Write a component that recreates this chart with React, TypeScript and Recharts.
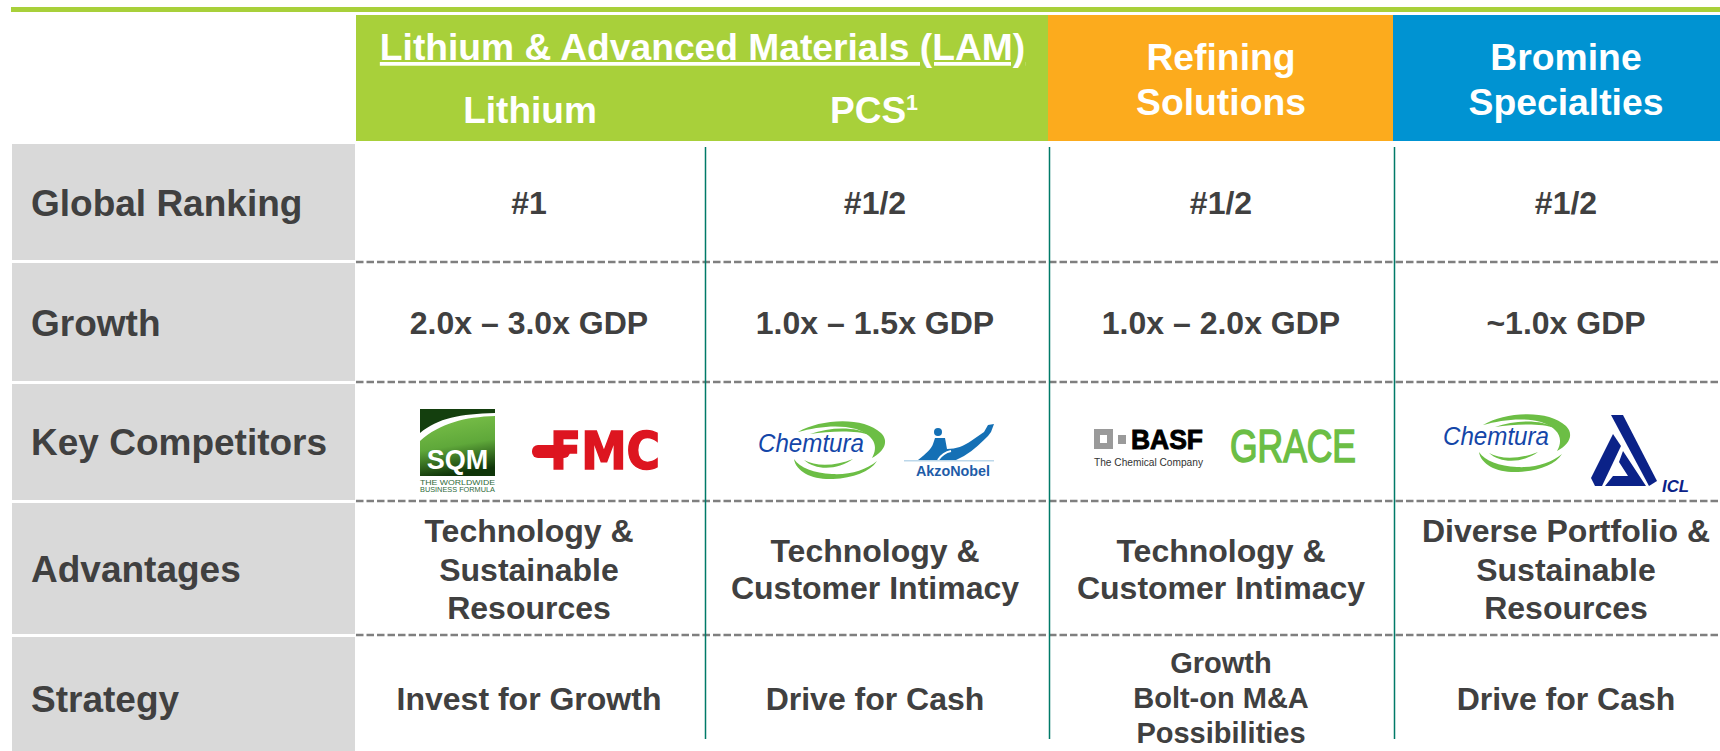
import React from "react";
import { ScatterChart, Scatter, XAxis, YAxis, ReferenceArea, ReferenceLine } from "recharts";

const FONT = "'Liberation Sans', Arial, sans-serif";
const INK = "#404040";

const rowLabels = ["Global Ranking", "Growth", "Key Competitors", "Advantages", "Strategy"];
const globalRanking = ["#1", "#1/2", "#1/2", "#1/2"];
const growth = ["2.0x – 3.0x GDP", "1.0x – 1.5x GDP", "1.0x – 2.0x GDP", "~1.0x GDP"];
const advantages = [
  ["Technology &", "Sustainable", "Resources"],
  ["Technology &", "Customer Intimacy"],
  ["Technology &", "Customer Intimacy"],
  ["Diverse Portfolio &", "Sustainable", "Resources"],
];
const strategy = [
  ["Invest for Growth"],
  ["Drive for Cash"],
  ["Growth", "Bolt-on M&A", "Possibilities"],
  ["Drive for Cash"],
];
const segments = [
  { name: "Lithium & Advanced Materials (LAM)", color: "#A8D03A" },
  { name: "Refining Solutions", color: "#FCAB1D" },
  { name: "Bromine Specialties", color: "#0093D2" },
];

// layout
const W = 1720, H = 751;
const colCenters = [529, 875, 1221, 1566];
const headerBands = [[356, 1048], [1048, 1393], [1393, 1720]];
const greyBands = [[144, 260], [263, 381], [384, 500], [503, 634], [637, 751]];
const dashedRows = [262, 382, 501, 635];
const colDividers = [705, 1049, 1394];
const labelBase = [216, 336, 455, 582, 712];
const cellBase = [214, 334, 0, 580.5, 710];
const lineGaps = [0, 0, 0, 38.5, 35];

type Cell = { x: number; y: number; text: string; size: number; color: string; anchor: string; underline?: boolean; sup?: string };
const cells: Cell[] = [];
const add = (x: number, y: number, text: string, size = 32, extra: Partial<Cell> = {}) =>
  cells.push({ x, y, text, size, color: INK, anchor: "middle", ...extra });

rowLabels.forEach((t, i) => add(31, labelBase[i], t, 37, { anchor: "start" }));
[globalRanking, growth].forEach((r, ri) => r.forEach((t, c) => add(colCenters[c], cellBase[ri], t)));
advantages.forEach((lines, c) =>
  lines.forEach((t, l) => add(colCenters[c], cellBase[3] + (l - (lines.length - 1) / 2) * (lines.length === 3 ? lineGaps[3] : 37), t))
);
strategy.forEach((lines, c) =>
  lines.forEach((t, l) => add(colCenters[c], cellBase[4] - (lines.length === 3 ? 2 : 0) + (l - (lines.length - 1) / 2) * lineGaps[4], t, lines.length === 3 ? 29 : 32))
);
const white = { color: "#fff" };
add(702.5, 60, segments[0].name, 37.2, { ...white, underline: true });
add(530, 123, "Lithium", 37, white);
add(874, 123, "PCS", 37, { ...white, sup: "1" });
segments.slice(1).forEach((s, i) => {
  const words = s.name.split(" ");
  words.forEach((w, l) => add(i === 0 ? 1221 : 1566, 70 + l * 45, w, 37.3, white));
});

const TextCell = (p: any) => (
  <text x={p.cx} y={p.cy} textAnchor={p.payload.anchor} fontFamily={FONT} fontWeight={700} fontSize={p.payload.size}
    fill={p.payload.color} textDecoration={p.payload.underline ? "underline" : undefined}>
    {p.payload.text}
    {p.payload.sup ? <tspan fontSize={p.payload.size * 0.58} dy={-13}>{p.payload.sup}</tspan> : null}
  </text>
);

// logos
const GREEN = "#6CBE45";
const Sqm = ({ cx, cy }: any) => (
  <g transform={`translate(${cx},${cy})`}>
    <defs>
      <linearGradient id="sqmg" x1="0.1" y1="0" x2="0.3" y2="1">
        <stop offset="0" stopColor="#7CC24A" />
        <stop offset="0.55" stopColor="#5FA83A" />
        <stop offset="1" stopColor="#0F3509" />
      </linearGradient>
    </defs>
    <rect width={75} height={67} fill="#143F0E" />
    <path d="M0 30 C18 14 40 7 75 6 L75 67 L0 67 Z" fill="url(#sqmg)" />
    <path d="M0 24 C18 9 40 5 75 4 L75 7 C45 8 20 14 0 32 Z" fill="#fff" />
    <text x={37.5} y={60} textAnchor="middle" fontFamily={FONT} fontWeight={700} fontSize={27} fill="#fff">SQM</text>
    <text x={0} y={76} fontFamily={FONT} fontSize={7.5} fill="#2F6B3A" textLength={75} lengthAdjust="spacingAndGlyphs">THE WORLDWIDE</text>
    <text x={0} y={83} fontFamily={FONT} fontSize={7.5} fill="#2F6B3A" textLength={75} lengthAdjust="spacingAndGlyphs">BUSINESS FORMULA</text>
  </g>
);
const Fmc = ({ cx, cy }: any) => (
  <g transform={`translate(${cx},${cy})`} fill="#DD1520">
    <rect x={0} y={13} width={38} height={13} rx={6} />
    <text x={18} y={37} fontFamily="'DejaVu Sans', sans-serif" fontWeight={700} fontSize={51} stroke="#DD1520" strokeWidth={1.6}
      textLength={110} lengthAdjust="spacingAndGlyphs">FMC</text>
  </g>
);
const Chemtura = ({ cx, cy }: any) => (
  <g transform={`translate(${cx},${cy})`}>
    <path d="M40 10 C62 -3 105 -6 123 11 C131 19 127 29 114 36 C121 24 116 13 98 7 C80 2 58 5 40 10 Z" fill={GREEN} />
    <path d="M52 12 C72 5 98 4 112 13 C98 8 72 9 52 12 Z" fill={GREEN} />
    <path d="M36 37 C38 50 55 58 75 57 C95 56 112 50 119 39 C108 48 92 53 74 52 C56 51 42 46 36 37 Z" fill={GREEN} />
    <path d="M46 38 C58 45 78 44 95 37 C80 48 58 49 46 38 Z" fill={GREEN} />
    <text x={0} y={30} fontFamily={FONT} fontStyle="italic" fontSize={26} fill="#1446A8" textLength={106} lengthAdjust="spacingAndGlyphs">Chemtura</text>
  </g>
);
const Akzo = ({ cx, cy }: any) => (
  <g transform={`translate(${cx},${cy})`}>
    <circle cx={34} cy={8} r={4} fill="#1570B5" />
    <path d="M31 14 L41 14 L43 25 C52 25 60 22 67 17 L80 8 L84 1 L90 0 L87 8 L84 12 C78 18 70 26 60 32 L52 36 L14 36 C22 30 28 24 29 20 Z" fill="#1570B5" />
    <path d="M34 36 C38 30 42 28 47 27" stroke="#fff" strokeWidth={2} fill="none" />
    <rect x={0} y={36} width={90} height={1.5} fill="#BCD7EA" />
    <text x={12} y={52} fontFamily={FONT} fontWeight={700} fontSize={15} fill="#1E5CA8" textLength={74} lengthAdjust="spacingAndGlyphs">AkzoNobel</text>
  </g>
);
const Basf = ({ cx, cy }: any) => (
  <g transform={`translate(${cx},${cy})`}>
    <rect x={0} y={0} width={19} height={20} fill="#9A9A9A" />
    <rect x={6} y={6} width={7} height={8} fill="#fff" />
    <rect x={24} y={6} width={8} height={9} fill="#9A9A9A" />
    <text x={37} y={20} fontFamily={FONT} fontWeight={700} fontSize={27} fill="#000" stroke="#000" strokeWidth={0.9} textLength={72} lengthAdjust="spacingAndGlyphs">BASF</text>
    <text x={0} y={37} fontFamily={FONT} fontSize={10.5} fill="#333" textLength={109} lengthAdjust="spacingAndGlyphs">The Chemical Company</text>
  </g>
);
const Grace = ({ cx, cy }: any) => (
  <text x={cx} y={cy} fontFamily={FONT} fontSize={46} fill={GREEN} stroke={GREEN} strokeWidth={1.6} textLength={126} lengthAdjust="spacingAndGlyphs">GRACE</text>
);
const Icl = ({ cx, cy }: any) => (
  <g transform={`translate(${cx},${cy})`} fill="#0B2288">
    <polygon points="20,0 32,0 66,66 58,71" />
    <polygon points="22,19 30,31 11,71 4,71 0,63" />
    <polygon points="32,36 55,71 14,71 22,61 37,61 28,47" />
    <text x={71} y={77} fontFamily={FONT} fontStyle="italic" fontWeight={700} fontSize={16} textLength={27} lengthAdjust="spacingAndGlyphs">ICL</text>
  </g>
);

const sqmAt = [{ x: 420, y: 409 }];
const fmcAt = [{ x: 532, y: 432 }];
const chemturaAt = [{ x: 758, y: 422 }, { x: 1443, y: 415 }];
const akzoAt = [{ x: 904, y: 424 }];
const basfAt = [{ x: 1094, y: 429 }];
const graceAt = [{ x: 1230, y: 462 }];
const iclAt = [{ x: 1591, y: 415 }];

export default function App() {
  return (
    <div style={{ position: "absolute", left: 0, top: 0, width: W, height: H, overflow: "hidden", background: "#fff" }}>
      <ScatterChart width={W} height={H} margin={{ top: 0, right: 0, bottom: 0, left: 0 }}>
        <XAxis type="number" dataKey="x" domain={[0, W]} hide allowDataOverflow />
        <YAxis type="number" dataKey="y" domain={[0, H]} reversed hide allowDataOverflow width={0} />
        <ReferenceArea x1={11} x2={W} y1={7} y2={12} fill="#A8D03A" fillOpacity={1} stroke="none" />
        {headerBands.map(([a, b], i) => (
          <ReferenceArea key={i} x1={a} x2={b} y1={15} y2={141} fill={segments[i].color} fillOpacity={1} stroke="none" />
        ))}
        {greyBands.map(([a, b], i) => (
          <ReferenceArea key={i} x1={12} x2={355} y1={a} y2={b} fill="#D9D9D9" fillOpacity={1} stroke="none" />
        ))}
        {dashedRows.map((y) => (
          <ReferenceLine key={y} segment={[{ x: 356, y }, { x: W, y }]} stroke="#7F7F7F" strokeWidth={2.6} strokeDasharray="7.5 3" />
        ))}
        {colDividers.map((x) => (
          <ReferenceLine key={x} segment={[{ x: x + 0.5, y: 147 }, { x: x + 0.5, y: 739 }]} stroke="#007A68" strokeWidth={1.5} />
        ))}
        <Scatter data={sqmAt} shape={Sqm} isAnimationActive={false} />
        <Scatter data={fmcAt} shape={Fmc} isAnimationActive={false} />
        <Scatter data={chemturaAt} shape={Chemtura} isAnimationActive={false} />
        <Scatter data={akzoAt} shape={Akzo} isAnimationActive={false} />
        <Scatter data={basfAt} shape={Basf} isAnimationActive={false} />
        <Scatter data={graceAt} shape={Grace} isAnimationActive={false} />
        <Scatter data={iclAt} shape={Icl} isAnimationActive={false} />
        <Scatter data={cells} shape={TextCell} isAnimationActive={false} />
      </ScatterChart>
    </div>
  );
}
